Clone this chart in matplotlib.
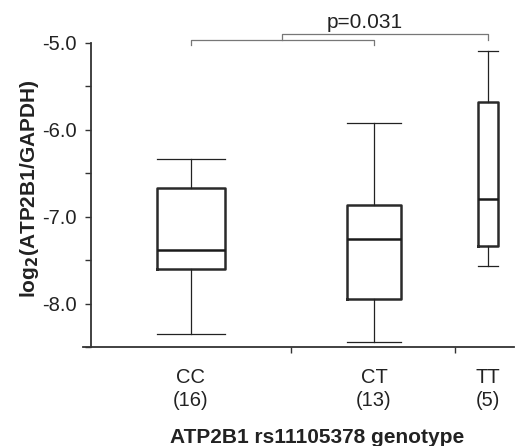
import matplotlib
matplotlib.use("Agg")
import matplotlib.pyplot as plt

plt.rcParams['font.family'] = ['Liberation Sans', 'DejaVu Sans']
plt.rcParams['axes.unicode_minus'] = False

# data
genotypes = ["CC", "CT", "TT"]
counts = [16, 13, 5]
whisker_low = [-8.345, -8.448, -7.563]
q1 = [-7.598, -7.943, -7.333]
median = [-7.379, -7.253, -6.793]
q3 = [-6.667, -6.862, -5.680]
whisker_high = [-6.333, -5.920, -5.095]
p_text = "p=0.031"
yticks = [-5.0, -6.0, -7.0, -8.0]
ytick_labels = ["-5.0", "-6.0", "-7.0", "-8.0"]

# layout
positions = [1.0, 2.0, 2.623]
width_per_n = 0.0229
FS = 14.5

fig = plt.figure(figsize=(5.16, 4.46), dpi=100)
W, H = 516, 446
ax = fig.add_axes([83 / W, (H - 347) / H, (514 - 83) / W, (347 - 43) / H])

stats = []
for i, g in enumerate(genotypes):
    stats.append(dict(med=median[i], q1=q1[i], q3=q3[i],
                      whislo=whisker_low[i], whishi=whisker_high[i],
                      fliers=[], label=g))
widths = [n * width_per_n for n in counts]

box_col = "#2a2a2a"
ax.bxp(stats, positions=positions, widths=widths, capwidths=widths,
       showfliers=False,
       boxprops=dict(color=box_col, linewidth=1.8),
       medianprops=dict(color="#1a1a1a", linewidth=1.8),
       whiskerprops=dict(color="#222222", linewidth=0.9),
       capprops=dict(color="#222222", linewidth=0.9))

ax.set_xlim(0.410, 2.765)
ax.set_ylim(-8.49, -5.0)

for s in ["top", "right"]:
    ax.spines[s].set_visible(False)
ax.spines["left"].set_position(("data", 0.454))
ax.spines["left"].set_linewidth(1.3)
ax.spines["bottom"].set_linewidth(1.3)
ax.spines["left"].set_color("#333333")
ax.spines["bottom"].set_color("#333333")

ax.set_yticks(yticks)
ax.set_yticklabels(ytick_labels, fontsize=FS, color="#222222")
ax.set_yticks([-5.5, -6.5, -7.5, -8.5], minor=True)
ax.tick_params(axis="y", which="both", direction="out", length=4.3,
               width=1.0, pad=6, color="#333333")

ax.set_xticks(positions)
ax.set_xticklabels([f"{g}\n({n})" for g, n in zip(genotypes, counts)],
                   fontsize=FS, linespacing=1.25, color="#222222")
ax.tick_params(axis="x", which="major", length=0, pad=15)
ax.set_xticks([1.546, 2.443], minor=True)
ax.tick_params(axis="x", which="minor", direction="out", length=4.3,
               width=1.0, color="#333333")

fig.text(30 / W, 1 - 189 / H, r"log$_\mathbf{2}$(ATP2B1/GAPDH)", rotation=90,
         ha="center", va="center", fontsize=15, fontweight="bold", color="#222222")
fig.text(317 / W, 1 - 443 / H, "ATP2B1 rs11105378 genotype", ha="center",
         va="baseline", fontsize=FS + 0.5, fontweight="bold", color="#222222")

# significance brackets
gcol = "#777777"
y_low_top = -4.960
y_low_bot = -5.023
y_hi_top = -4.897
mid = (positions[0] + positions[1]) / 2
ax.plot([positions[0], positions[0], positions[1], positions[1]],
        [y_low_bot, y_low_top, y_low_top, y_low_bot],
        color=gcol, lw=0.9, clip_on=False)
ax.plot([mid, mid, positions[2], positions[2]],
        [y_low_top, y_hi_top, y_hi_top, y_low_top],
        color=gcol, lw=0.9, clip_on=False)
ax.text(1.95, y_hi_top + 0.025, p_text, ha="center", va="bottom",
        fontsize=FS + 0.5, color="#222222")

fig.savefig("out.png", dpi=100)
